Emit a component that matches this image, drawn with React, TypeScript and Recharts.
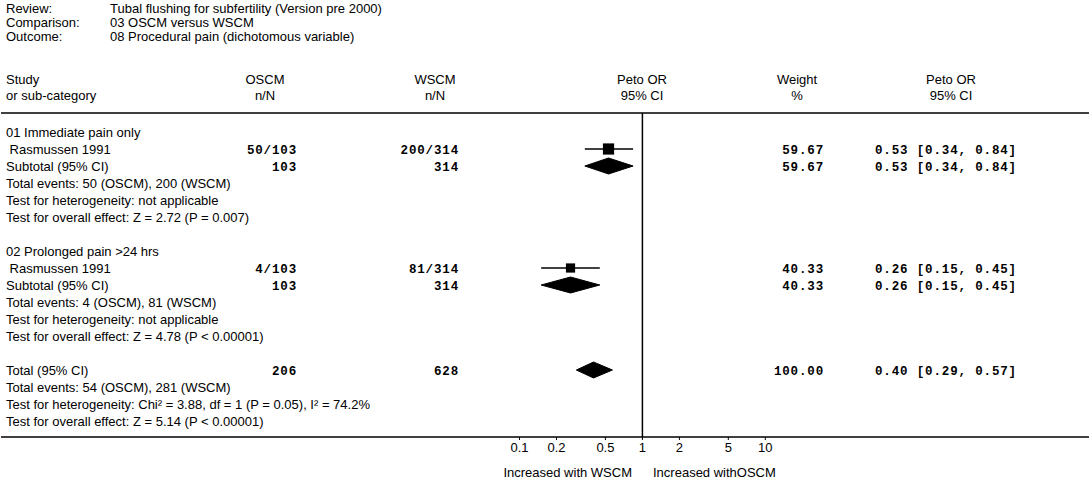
import React from 'react';
import {
  ComposedChart,
  Scatter,
  ErrorBar,
  XAxis,
  YAxis,
  ReferenceLine,
} from 'recharts';

// rows of the forest table, top to bottom
const studyLabels = [
  '01 Immediate pain only',
  ' Rasmussen 1991',
  'Subtotal (95% CI)',
  'Total events: 50 (OSCM), 200 (WSCM)',
  'Test for heterogeneity: not applicable',
  'Test for overall effect: Z = 2.72 (P = 0.007)',
  '',
  '02 Prolonged pain >24 hrs',
  ' Rasmussen 1991',
  'Subtotal (95% CI)',
  'Total events: 4 (OSCM), 81 (WSCM)',
  'Test for heterogeneity: not applicable',
  'Test for overall effect: Z = 4.78 (P < 0.00001)',
  '',
  'Total (95% CI)',
  'Total events: 54 (OSCM), 281 (WSCM)',
  'Test for heterogeneity: Chi² = 3.88, df = 1 (P = 0.05), I² = 74.2%',
  'Test for overall effect: Z = 5.14 (P < 0.00001)',
];
const oscmCol = ['', '50/103', '103', '', '', '', '', '', '4/103', '103', '', '', '', '', '206', '', '', ''];
const wscmCol = ['', '200/314', '314', '', '', '', '', '', '81/314', '314', '', '', '', '', '628', '', '', ''];
const weightCol = ['', '59.67', '59.67', '', '', '', '', '', '40.33', '40.33', '', '', '', '', '100.00', '', '', ''];
const orCol = [
  '', '0.53 [0.34, 0.84]', '0.53 [0.34, 0.84]', '', '', '', '',
  '', '0.26 [0.15, 0.45]', '0.26 [0.15, 0.45]', '', '', '', '',
  '0.40 [0.29, 0.57]', '', '', '',
];

// individual studies
const studyRows = [1, 8];
const studyOR = [0.53, 0.26];
const studyLo = [0.34, 0.15];
const studyHi = [0.84, 0.45];
const studyWeight = [59.67, 40.33];

// pooled estimates (diamonds)
const pooledRows = [2, 9, 14];
const pooledOR = [0.53, 0.26, 0.4];
const pooledLo = [0.34, 0.15, 0.29];
const pooledHi = [0.84, 0.45, 0.57];

const xTicks = [0.1, 0.2, 0.5, 1, 2, 5, 10];

const SANS = '"Liberation Sans", Arial, sans-serif';
const MONO = '"Liberation Mono", "Courier New", monospace';
const FS = 13;

// layout
const W = 1089;
const H = 481;
const PLOT_TOP = 113;
const AXIS_H = 44;
const ROW = 17;
const DECADE = 123; // px per log10 unit
const X_ONE = 642; // pixel of OR = 1
const X_LO = Math.pow(10, -X_ONE / DECADE);
const X_HI = Math.pow(10, (W - X_ONE) / DECADE);
const Y_TOP = -19 / ROW;
const Y_BOT = studyLabels.length - 1 + 16 / ROW;

const studyData = studyRows.map((r, i) => ({
  x: studyOR[i],
  y: r,
  err: [studyOR[i] - studyLo[i], studyHi[i] - studyOR[i]],
  w: studyWeight[i],
}));

const diamondHalf = 0.47;
const diamonds = pooledRows.map((r, i) => [
  { x: pooledLo[i], y: r },
  { x: pooledOR[i], y: r - diamondHalf },
  { x: pooledHi[i], y: r },
  { x: pooledOR[i], y: r + diamondHalf },
  { x: pooledLo[i], y: r },
]);

function Txt({ x, y, children, anchor = 'start' }: any) {
  const tx = anchor === 'middle' ? 'translate(-50%, -50%)' : anchor === 'end' ? 'translate(-100%, -50%)' : 'translate(0, -50%)';
  return (
    <div
      style={{
        position: 'absolute',
        left: x,
        top: y,
        transform: tx,
        whiteSpace: 'pre',
        fontFamily: SANS,
        fontSize: FS,
        lineHeight: '15px',
        color: '#000',
      }}
    >
      {children}
    </div>
  );
}

function RowTick(props: any) {
  const { y, payload } = props;
  const i = payload.value;
  const mono = { fontFamily: MONO, fontSize: 12.5, fontWeight: 700, letterSpacing: 0.85, fill: '#000' };
  return (
    <g>
      <text x={6} y={y} dy="0.36em" fontFamily={SANS} fontSize={FS} fill="#000" style={{ whiteSpace: 'pre' }}>
        {studyLabels[i]}
      </text>
      <text x={297} y={y} dy="0.36em" textAnchor="end" {...mono}>{oscmCol[i]}</text>
      <text x={459} y={y} dy="0.36em" textAnchor="end" {...mono}>{wscmCol[i]}</text>
      <text x={824} y={y} dy="0.36em" textAnchor="end" {...mono}>{weightCol[i]}</text>
      <text x={875} y={y} dy="0.36em" {...mono}>{orCol[i]}</text>
    </g>
  );
}

function XTick(props: any) {
  const { x, y, payload } = props;
  return (
    <text x={x} y={y} dy="0.71em" textAnchor="middle" fontFamily={SANS} fontSize={FS} fill="#000">
      {String(payload.value)}
    </text>
  );
}

const Square = (props: any) => {
  const { cx, cy, payload } = props;
  const s = 1.45 * Math.sqrt(payload.w);
  return <rect x={cx - s / 2} y={cy - s / 2} width={s} height={s} fill="#000" />;
};

const NoDot = () => <g />;

export default function App() {
  return (
    <div style={{ position: 'absolute', left: 0, top: 0, width: W, height: H, background: '#fff' }}>
      <Txt x={6} y={8}>Review:</Txt>
      <Txt x={110} y={8}>Tubal flushing for subfertility (Version pre 2000)</Txt>
      <Txt x={6} y={22}>Comparison:</Txt>
      <Txt x={110} y={22}>03 OSCM versus WSCM</Txt>
      <Txt x={6} y={36}>Outcome:</Txt>
      <Txt x={110} y={36}>08 Procedural pain (dichotomous variable)</Txt>

      <Txt x={6} y={79}>Study</Txt>
      <Txt x={6} y={95}>or sub-category</Txt>
      <Txt x={265} y={79} anchor="middle">OSCM</Txt>
      <Txt x={265} y={95} anchor="middle">n/N</Txt>
      <Txt x={435} y={79} anchor="middle">WSCM</Txt>
      <Txt x={435} y={95} anchor="middle">n/N</Txt>
      <Txt x={642} y={79} anchor="middle">Peto OR</Txt>
      <Txt x={642} y={95} anchor="middle">95% CI</Txt>
      <Txt x={797} y={79} anchor="middle">Weight</Txt>
      <Txt x={797} y={95} anchor="middle">%</Txt>
      <Txt x={951} y={79} anchor="middle">Peto OR</Txt>
      <Txt x={951} y={95} anchor="middle">95% CI</Txt>

      <ComposedChart width={W} height={H} margin={{ top: PLOT_TOP, right: 0, bottom: 0, left: 0 }}>
        <XAxis
          dataKey="x"
          type="number"
          scale="log"
          domain={[X_LO, X_HI]}
          allowDataOverflow
          ticks={xTicks}
          interval={0}
          height={AXIS_H}
          axisLine={{ stroke: '#000', strokeWidth: 1.5 }}
          tickLine={{ stroke: '#000' }}
          tickSize={3}
          tickMargin={3}
          tick={(p: any) => <XTick {...p} />}
        />
        <YAxis
          dataKey="y"
          type="number"
          reversed
          domain={[Y_TOP, Y_BOT]}
          allowDataOverflow
          ticks={studyLabels.map((_, i) => i)}
          interval={0}
          width={1}
          axisLine={false}
          tickLine={false}
          tick={(p: any) => <RowTick {...p} />}
        />
        <ReferenceLine y={Y_TOP} stroke="#000" strokeWidth={1.5} ifOverflow="visible" />
        <ReferenceLine x={1} stroke="#000" strokeWidth={1.5} />
        <Scatter data={studyData} shape={Square} isAnimationActive={false}>
          <ErrorBar dataKey="err" direction="x" width={0} stroke="#000" strokeWidth={1.5} isAnimationActive={false} />
        </Scatter>
        {diamonds.map((d, i) => (
          <Scatter
            key={i}
            data={d}
            shape={NoDot}
            line={{ stroke: '#000', fill: '#000', strokeWidth: 1 }}
            lineJointType="linear"
            isAnimationActive={false}
          />
        ))}
      </ComposedChart>

      <Txt x={632} y={472} anchor="end">Increased with WSCM</Txt>
      <Txt x={653} y={472}>Increased withOSCM</Txt>
    </div>
  );
}
